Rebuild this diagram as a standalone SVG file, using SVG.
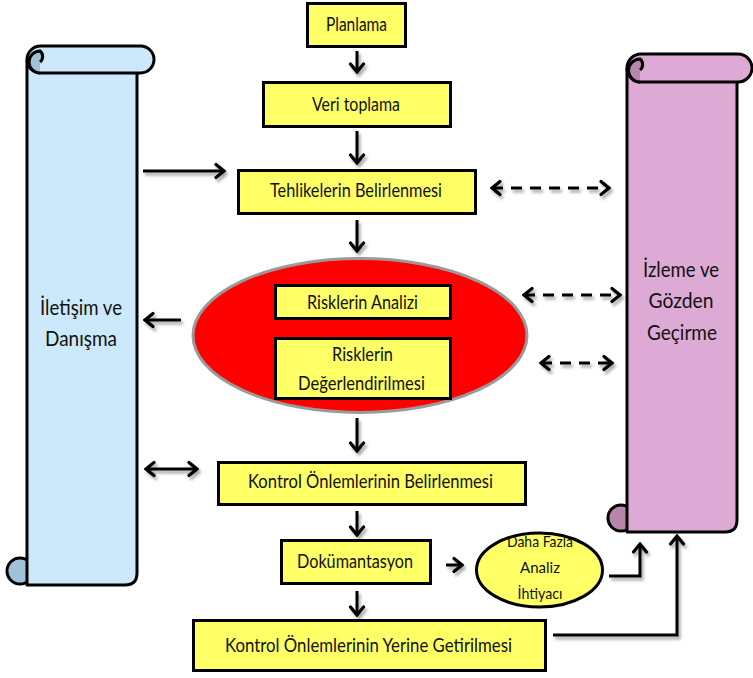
<svg xmlns="http://www.w3.org/2000/svg" width="753" height="678" viewBox="0 0 753 678">
<style>
.box{fill:#ffff66;stroke:#000;stroke-width:3}
.t{font-family:Lato,"Open Sans","Liberation Sans",sans-serif;fill:#111;text-anchor:middle}
.bt{font-size:18.5px}
.st{font-size:21px}
.con{fill:none;stroke:#000;stroke-width:3}
.dash{stroke-dasharray:11 8}
.scrollL{fill:#cce9fb;stroke:#000;stroke-width:3;stroke-linejoin:round}
.curlL{fill:#a3c1d6;stroke:#000;stroke-width:3}
.scrollR{fill:#ddaad5;stroke:#000;stroke-width:3;stroke-linejoin:round}
.curlR{fill:#b886ad;stroke:#000;stroke-width:3}
</style>
<defs>
<filter id="sh" x="-20%" y="-20%" width="140%" height="160%">
<feDropShadow dx="2" dy="3" stdDeviation="1.5" flood-color="#000" flood-opacity="0.35"/>
</filter>
<marker id="ah" markerUnits="userSpaceOnUse" viewBox="-12 -9 14 18" markerWidth="14" markerHeight="18" refX="0" refY="0" orient="auto-start-reverse">
<path d="M-8,-6.5 L0,0 L-8,6.5" fill="none" stroke="#000" stroke-width="3.2" stroke-linecap="round" stroke-linejoin="miter"/>
</marker>
</defs>

<g id="scroll-left">
<circle class="curlL" cx="20" cy="571" r="13"/>
<path class="scrollL" d="M27,60 L27,585 L125,585 Q137,585 137,573 L137,73"/>
<rect class="scrollL" x="27" y="46" width="127" height="27" rx="13.5"/>
<path class="curlL" d="M40,73 A11,11 0 0 1 40,51 A7,7 0 0 1 40,62" />
<text class="t st" x="81" y="315" textLength="82" lengthAdjust="spacingAndGlyphs">İletişim ve</text>
<text class="t st" x="81" y="346" textLength="72" lengthAdjust="spacingAndGlyphs">Danışma</text>
</g>

<g id="scroll-right">
<circle class="curlR" cx="621" cy="518" r="13"/>
<path class="scrollR" d="M627,68 L627,532 L725,532 Q737,532 737,520 L737,82"/>
<rect class="scrollR" x="627" y="54" width="125" height="28" rx="14"/>
<path class="curlR" d="M640,82 A11,11 0 0 1 640,59 A7,7 0 0 1 640,70"/>
<text class="t st" x="681" y="277" textLength="76" lengthAdjust="spacingAndGlyphs">İzleme ve</text>
<text class="t st" x="681" y="308" textLength="65" lengthAdjust="spacingAndGlyphs">Gözden</text>
<text class="t st" x="682" y="340" textLength="70" lengthAdjust="spacingAndGlyphs">Geçirme</text>
</g>

<g id="n-planlama">
<rect class="box" x="307.5" y="3.5" width="98" height="43"/>
<text class="t bt" x="356.5" y="31" textLength="61" lengthAdjust="spacingAndGlyphs">Planlama</text>
</g>
<g id="n-veri">
<rect class="box" x="263.5" y="82.5" width="187" height="44"/>
<text class="t bt" x="356" y="111" textLength="88" lengthAdjust="spacingAndGlyphs">Veri toplama</text>
</g>
<g id="n-tehlike">
<rect class="box" x="238.5" y="170.5" width="237" height="43"/>
<text class="t bt" x="356" y="197" textLength="172" lengthAdjust="spacingAndGlyphs">Tehlikelerin Belirlenmesi</text>
</g>
<g id="n-risk">
<ellipse cx="360" cy="335.5" rx="167" ry="77" fill="#ff0000" stroke="#9a9a9a" stroke-width="3"/>
<rect class="box" x="275.5" y="285.5" width="175" height="33"/>
<text class="t bt" x="362.5" y="309" textLength="111" lengthAdjust="spacingAndGlyphs">Risklerin Analizi</text>
<rect class="box" x="275.5" y="338.5" width="175" height="60"/>
<text class="t bt" x="362.5" y="361" textLength="61" lengthAdjust="spacingAndGlyphs">Risklerin</text>
<text class="t bt" x="361.5" y="390" textLength="127" lengthAdjust="spacingAndGlyphs">Değerlendirilmesi</text>
</g>
<g id="n-kontrol-bel">
<rect class="box" x="218.5" y="462.5" width="307" height="42"/>
<text class="t bt" x="370.5" y="488" textLength="245" lengthAdjust="spacingAndGlyphs">Kontrol Önlemlerinin Belirlenmesi</text>
</g>
<g id="n-dok">
<rect class="box" x="281.5" y="540.5" width="149" height="43"/>
<text class="t bt" x="355" y="568" textLength="116" lengthAdjust="spacingAndGlyphs">Dokümantasyon</text>
</g>
<g id="n-daha">
<ellipse cx="539.5" cy="570" rx="63" ry="37" fill="#ffff66" stroke="#000" stroke-width="3"/>
<text class="t" font-size="16" x="540" y="547" textLength="66" lengthAdjust="spacingAndGlyphs">Daha Fazla</text>
<text class="t" font-size="16" x="540" y="573" textLength="40" lengthAdjust="spacingAndGlyphs">Analiz</text>
<text class="t" font-size="16" x="540" y="599" textLength="45" lengthAdjust="spacingAndGlyphs">İhtiyacı</text>
</g>
<g id="n-kontrol-yer">
<rect class="box" x="193.5" y="620.5" width="352" height="50"/>
<text class="t bt" x="368.5" y="652" textLength="287" lengthAdjust="spacingAndGlyphs">Kontrol Önlemlerinin Yerine Getirilmesi</text>
</g>

<g id="connectors" filter="url(#sh)">
<path class="con" d="M357,51 V72" marker-end="url(#ah)"/>
<path class="con" d="M357,131 V163" marker-end="url(#ah)"/>
<path class="con" d="M357,220 V251" marker-end="url(#ah)"/>
<path class="con" d="M357,418 V451" marker-end="url(#ah)"/>
<path class="con" d="M357,511 V535" marker-end="url(#ah)"/>
<path class="con" d="M357,591 V615" marker-end="url(#ah)"/>
<path class="con" d="M143,171 H224" marker-end="url(#ah)"/>
<path class="con" d="M181,320 H145" marker-end="url(#ah)"/>
<path class="con" d="M146,469 H197" marker-start="url(#ah)" marker-end="url(#ah)"/>
<path class="con dash" d="M492,188 H609" marker-start="url(#ah)" marker-end="url(#ah)"/>
<path class="con dash" d="M524,295 H620" marker-start="url(#ah)" marker-end="url(#ah)"/>
<path class="con dash" d="M541,363 H612" marker-start="url(#ah)" marker-end="url(#ah)"/>
<path class="con" d="M446,565 H462" marker-end="url(#ah)"/>
<path class="con" d="M609,576 H640 V544" marker-end="url(#ah)"/>
<path class="con" d="M553,635 H677 V536" marker-end="url(#ah)"/>
</g>
</svg>
